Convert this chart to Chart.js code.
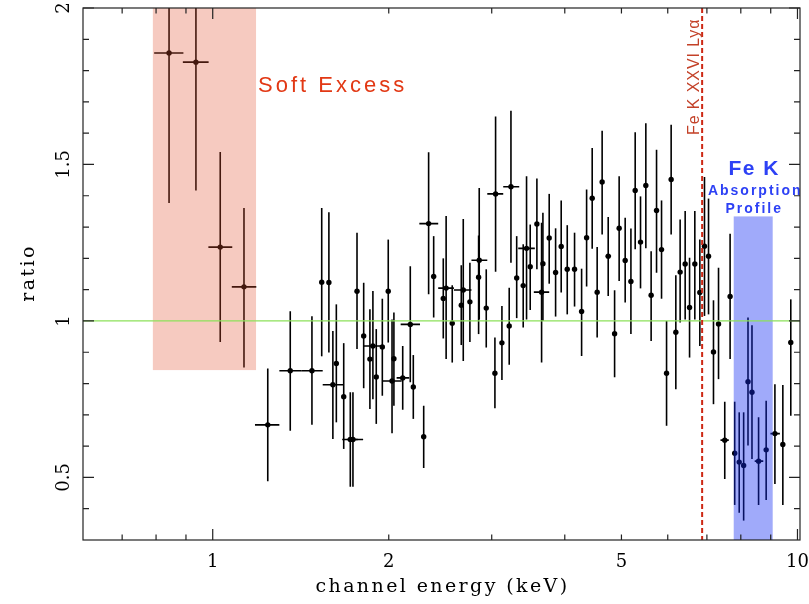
<!DOCTYPE html>
<html>
<head>
<meta charset="utf-8">
<script src="https://cdn.jsdelivr.net/npm/chart.js@4/dist/chart.umd.min.js"></script>
<style>
  html, body { margin: 0; padding: 0; background: #fff; }
  canvas { display: block; }
</style>
</head>
<body>
<canvas id="ratioChart" width="809" height="604"></canvas>
<script>
// channel energy (keV) and data/model ratio
const energy = [0.842, 0.936, 1.030, 1.131, 1.242, 1.357, 1.478, 1.536, 1.580, 1.605,
  1.627, 1.675, 1.719, 1.737, 1.765, 1.812, 1.857, 1.879, 1.904, 1.950,
  1.996, 2.026, 2.041, 2.113, 2.177, 2.203, 2.295, 2.340, 2.387, 2.479,
  2.507, 2.568, 2.661, 2.682, 2.753, 2.849, 2.856, 2.936, 3.038, 3.046,
  3.123, 3.214, 3.236, 3.310, 3.396, 3.441, 3.491, 3.584, 3.651, 3.670,
  3.762, 3.858, 3.944, 4.039, 4.157, 4.274, 4.359, 4.456, 4.544, 4.634,
  4.746, 4.867, 4.955, 5.074, 5.190, 5.278, 5.390, 5.504, 5.620, 5.741,
  5.855, 5.972, 6.081, 6.194, 6.300, 6.426, 6.538, 6.675, 6.808, 6.934,
  7.045, 7.184, 7.328, 7.510, 7.670, 7.810, 7.950, 8.090, 8.230, 8.360,
  8.580, 8.840, 9.150, 9.440, 9.740]
const ratio = [1.856, 1.827, 1.236, 1.109, 0.668, 0.841, 0.841, 1.124, 1.123, 0.796,
  0.864, 0.758, 0.621, 0.621, 1.095, 0.952, 0.878, 0.920, 0.821, 0.917,
  1.095, 0.808, 0.879, 0.818, 0.989, 0.789, 0.630, 1.311, 1.142, 1.072,
  1.105, 0.993, 1.050, 1.099, 1.061, 1.140, 1.194, 1.041, 0.833, 1.406,
  0.930, 0.984, 1.429, 1.137, 1.113, 1.232, 1.173, 1.310, 1.092, 1.183,
  1.265, 1.155, 1.238, 1.165, 1.165, 1.030, 1.266, 1.392, 1.092, 1.444,
  1.207, 0.959, 1.296, 1.193, 1.126, 1.417, 1.252, 1.433, 1.082, 1.353,
  1.228, 0.833, 1.452, 0.964, 1.156, 1.182, 1.043, 1.182, 1.091, 1.239,
  1.207, 0.901, 0.990, 0.619, 1.078, 0.577, 0.549, 0.538, 0.806, 0.772,
  0.552, 0.588, 0.640, 0.605, 0.931]
const ratioLo = [1.377, 1.417, 0.933, 0.851, 0.488, 0.649, 0.668, 0.887, 0.899, 0.623,
  0.676, 0.591, 0.470, 0.470, 0.910, 0.785, 0.719, 0.750, 0.671, 0.761,
  0.931, 0.641, 0.729, 0.716, 0.804, 0.687, 0.530, 1.085, 1.011, 0.944,
  0.878, 0.867, 0.923, 0.872, 0.933, 0.958, 1.005, 0.915, 0.721, 1.157,
  0.811, 0.860, 1.186, 1.009, 0.979, 1.005, 1.035, 1.165, 0.867, 1.000,
  1.119, 1.014, 1.091, 1.021, 1.046, 0.888, 1.110, 1.231, 0.947, 1.276,
  1.080, 0.820, 1.128, 1.059, 0.958, 1.229, 1.104, 1.232, 0.936, 1.154,
  1.071, 0.665, 1.276, 0.782, 0.995, 1.005, 0.883, 1.005, 0.920, 1.016,
  1.021, 0.734, 0.814, 0.495, 0.878, 0.412, 0.387, 0.362, 0.602, 0.559,
  0.412, 0.428, 0.479, 0.412, 0.697]
const ratioHi = [2.100, 2.100, 1.540, 1.361, 0.848, 1.031, 1.015, 1.361, 1.347, 0.968,
  1.053, 0.929, 0.772, 0.772, 1.282, 1.122, 1.037, 1.096, 0.974, 1.071,
  1.260, 1.005, 1.027, 0.920, 1.175, 0.891, 0.729, 1.539, 1.271, 1.200,
  1.335, 1.114, 1.178, 1.326, 1.186, 1.273, 1.425, 1.165, 0.947, 1.653,
  1.048, 1.106, 1.672, 1.271, 1.245, 1.462, 1.308, 1.455, 1.314, 1.346,
  1.406, 1.296, 1.385, 1.306, 1.282, 1.167, 1.420, 1.553, 1.236, 1.608,
  1.332, 1.098, 1.462, 1.330, 1.295, 1.603, 1.398, 1.632, 1.223, 1.547,
  1.385, 1.000, 1.627, 1.146, 1.324, 1.351, 1.202, 1.351, 1.260, 1.460,
  1.391, 1.066, 1.170, 0.742, 1.279, 0.742, 0.708, 0.708, 1.011, 0.986,
  0.692, 0.745, 0.798, 0.795, 1.069]
// channel widths where a horizontal bar is visible (null = hidden under the dot)
const energyLo = [0.794, 0.889, 0.983, 1.078, 1.181, 1.300, 1.420, null, null, 1.542,
  null, null, 1.665, 1.700, null, null, null, 1.810, null, null,
  null, 1.950, null, 2.063, 2.096, null, null, 2.256, null, null,
  2.430, null, null, 2.585, null, null, 2.770, null, null, 2.948,
  null, null, 3.139, null, null, 3.330, null, null, 3.541, null,
  null, null, null, null, null, null, null, null, null, null,
  4.700, null, null, null, null, null, null, null, null, null,
  null, null, null, null, null, null, null, null, null, null,
  null, null, null, 7.385, null, null, null, null, null, null,
  8.450, null, 8.990, null, null]
const energyHi = [0.891, 0.984, 1.080, 1.187, 1.300, 1.420, 1.542, null, null, 1.672,
  null, null, 1.770, 1.808, null, null, null, 1.957, null, null,
  null, 2.104, null, 2.168, 2.262, null, null, 2.430, null, null,
  2.585, null, null, 2.770, null, null, 2.948, null, null, 3.139,
  null, null, 3.343, null, null, 3.555, null, null, 3.762, null,
  null, null, null, null, null, null, null, null, null, null,
  4.800, null, null, null, null, null, null, null, null, null,
  null, null, null, null, null, null, null, null, null, null,
  null, null, null, 7.630, null, null, null, null, null, null,
  8.740, null, 9.330, null, null]

const xLabelTicks = [1, 2, 5, 10]
const xMinorTicks = [0.7, 0.8, 0.9, 2, 3, 4, 5, 6, 7, 8, 9]
const xMajorTicks = [1, 10]
const yLabelTicks = [0.5, 1, 1.5, 2]
const yMinorTicks = [0.4, 0.6, 0.7, 0.8, 0.9, 1.1, 1.2, 1.3, 1.4, 1.6, 1.7, 1.8, 1.9]

// shaded regions: [eLo, eHi, ratioLo, ratioHi]
const softBand = [0.79, 1.186, 0.843, 2.0]
const feBand = [7.78, 9.07, 0.3, 1.334]
const lyaEnergy = 6.87

const serif = '"DejaVu Serif", serif'
const sans = '"Liberation Sans", Arial, sans-serif'

const overlay = {
    id: 'overlay',
    beforeDatasetsDraw(chart) {
        const { ctx, chartArea: a, scales: { x, y } } = chart
        ctx.save()
        ctx.beginPath()
        ctx.rect(a.left, a.top, a.width, a.height)
        ctx.clip()
        ctx.strokeStyle = '#000'
        ctx.lineWidth = 1.6
        energy.forEach((e, i) => {
            const px = x.getPixelForValue(e)
            const py = y.getPixelForValue(ratio[i])
            ctx.beginPath()
            ctx.moveTo(px, y.getPixelForValue(ratioLo[i]))
            ctx.lineTo(px, y.getPixelForValue(ratioHi[i]))
            if (energyLo[i] !== null) {
                ctx.moveTo(x.getPixelForValue(energyLo[i]), py)
                ctx.lineTo(x.getPixelForValue(energyHi[i]), py)
            }
            ctx.stroke()
        })
        ctx.restore()
    },
    afterDatasetsDraw(chart) {
        const { ctx, chartArea: a, scales: { x, y } } = chart
        const band = (b, color) => {
            const l = x.getPixelForValue(b[0]), r = x.getPixelForValue(b[1])
            const t = y.getPixelForValue(b[3]), btm = y.getPixelForValue(b[2])
            ctx.fillStyle = color
            ctx.fillRect(l, t, r - l, btm - t)
        }
        ctx.save()
        ctx.beginPath()
        ctx.rect(a.left, a.top, a.width, a.height)
        ctx.clip()
        band(softBand, 'rgba(225,78,48,0.3)')
        band(feBand, 'rgba(18,42,242,0.4)')

        // unity line
        const y1 = y.getPixelForValue(1)
        ctx.strokeStyle = 'rgb(140,225,90)'
        ctx.lineWidth = 1.2
        ctx.beginPath()
        ctx.moveTo(a.left, y1)
        ctx.lineTo(a.right, y1)
        ctx.stroke()

        // Fe XXVI Lya line
        const xl = x.getPixelForValue(lyaEnergy)
        ctx.strokeStyle = 'rgb(205,40,20)'
        ctx.lineWidth = 2
        ctx.setLineDash([5, 3])
        ctx.beginPath()
        ctx.moveTo(xl, a.top)
        ctx.lineTo(xl, a.bottom)
        ctx.stroke()
        ctx.setLineDash([])
        ctx.restore()

        // annotations
        ctx.save()
        ctx.fillStyle = 'rgb(226,56,20)'
        ctx.font = '22px ' + sans
        ctx.letterSpacing = '3px'
        ctx.textAlign = 'left'
        ctx.textBaseline = 'alphabetic'
        ctx.fillText('Soft Excess', 258, 91.5)

        ctx.fillStyle = 'rgb(45,65,245)'
        ctx.textAlign = 'center'
        const fx = (x.getPixelForValue(feBand[0]) + x.getPixelForValue(feBand[1])) / 2
        ctx.font = 'bold 21px ' + sans
        ctx.letterSpacing = '1.5px'
        ctx.fillText('Fe K', fx + 1, 175)
        ctx.font = 'bold 14px ' + sans
        ctx.letterSpacing = '2px'
        ctx.fillText('Absorption', fx + 2, 195)
        ctx.fillText('Profile', fx + 1, 213)

        ctx.fillStyle = 'rgb(195,65,40)'
        ctx.font = '16px ' + sans
        ctx.letterSpacing = '0.9px'
        ctx.translate(xl - 3, 135)
        ctx.rotate(-Math.PI / 2)
        ctx.textAlign = 'left'
        ctx.fillText('Fe K XXVI Lyα', 0, 0)
        ctx.restore()

        // frame and inward ticks on all four sides
        ctx.save()
        ctx.strokeStyle = '#222'
        ctx.lineWidth = 1.2
        ctx.strokeRect(a.left, a.top, a.width, a.height)
        const xTick = (v, len) => {
            const p = x.getPixelForValue(v)
            ctx.moveTo(p, a.bottom); ctx.lineTo(p, a.bottom - len)
            ctx.moveTo(p, a.top); ctx.lineTo(p, a.top + len)
        }
        const yTick = (v, len) => {
            const p = y.getPixelForValue(v)
            ctx.moveTo(a.left, p); ctx.lineTo(a.left + len, p)
            ctx.moveTo(a.right, p); ctx.lineTo(a.right - len, p)
        }
        ctx.beginPath()
        xMinorTicks.forEach(v => xTick(v, 5.5))
        xMajorTicks.forEach(v => xTick(v, 11))
        yMinorTicks.forEach(v => yTick(v, 6))
        yLabelTicks.forEach(v => yTick(v, 11))
        ctx.stroke()

        ctx.fillStyle = '#000'
        ctx.font = '18px ' + serif
        ctx.textAlign = 'center'
        ctx.textBaseline = 'alphabetic'
        xLabelTicks.forEach(v => {
            ctx.fillText(String(v), x.getPixelForValue(v), 567)
        })
        yLabelTicks.forEach(v => {
            ctx.save()
            ctx.translate(68.5, y.getPixelForValue(v))
            ctx.rotate(-Math.PI / 2)
            ctx.fillText(String(v), 0, 0)
            ctx.restore()
        })

        ctx.font = '19px ' + serif
        ctx.letterSpacing = '2.4px'
        ctx.fillText('channel energy (keV)', (a.left + a.right) / 2 + 1, 591.5)
        ctx.translate(33.5, (a.top + a.bottom) / 2)
        ctx.rotate(-Math.PI / 2)
        ctx.fillText('ratio', 1, 0)
        ctx.restore()
    }
}

new Chart(document.getElementById('ratioChart'), {
    type: 'scatter',
    data: {
        datasets: [{
            data: energy.map((e, i) => ({ x: e, y: ratio[i] })),
            pointRadius: 2.7,
            pointBackgroundColor: '#000',
            pointBorderWidth: 0
        }]
    },
    options: {
        responsive: false,
        animation: false,
        events: [],
        layout: { padding: { left: 83, right: 9, top: 8, bottom: 64 } },
        scales: {
            x: { type: 'logarithmic', min: 0.6, max: 10.1, display: false },
            y: { type: 'linear', min: 0.3, max: 2.0, display: false }
        },
        plugins: { legend: { display: false }, tooltip: { enabled: false } }
    },
    plugins: [overlay]
})
</script>
</body>
</html>
